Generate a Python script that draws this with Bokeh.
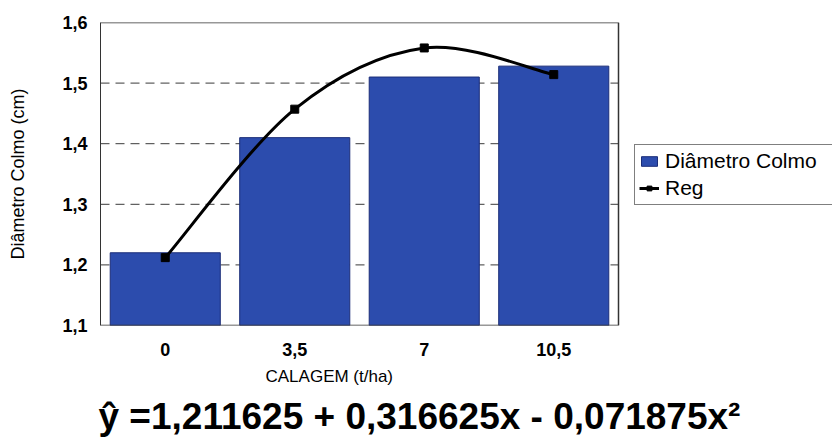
from bokeh.plotting import figure
from bokeh.models import Range1d, FixedTicker, Legend, LegendItem, Title
from bokeh.embed import file_html
from bokeh.resources import INLINE

# ---- data ----
categories = ["0", "3,5", "7", "10,5"]
diametro = [1.22, 1.41, 1.51, 1.528]
reg = [1.212, 1.457, 1.558, 1.514]
y_ticks = [1.1, 1.2, 1.3, 1.4, 1.5, 1.6]
y_tick_labels = ["1,1", "1,2", "1,3", "1,4", "1,5", "1,6"]
grid_ticks = [1.2, 1.3, 1.4, 1.5]
x_title = "CALAGEM (t/ha)"
y_title = "Diâmetro Colmo (cm)"
equation = "ŷ =1,211625 + 0,316625x - 0,071875x²"

positions = [i + 0.5 for i in range(len(categories))]
ncat = len(categories)

FONT = "Liberation Sans"

# layout: plot area 518 px wide starting at x=100, legend area to its right
AREA_W, FRAME_W = 518, 732
x_end = ncat * FRAME_W / AREA_W

p = figure(width=832, height=441, x_range=Range1d(0, x_end), y_range=Range1d(1.1, 1.6),
           output_backend="svg", toolbar_location=None, min_border=0,
           min_border_left=100, min_border_right=0, min_border_top=22, min_border_bottom=116)

p.background_fill_color = "white"
p.border_fill_color = "white"
p.outline_line_color = None
p.grid.visible = False

# dashed gridlines limited to the plot area
p.segment(x0=[0] * len(grid_ticks), x1=[ncat] * len(grid_ticks), y0=grid_ticks, y1=grid_ticks,
          line_color="#3a3a3a", line_dash="9 6", line_width=1, level="underlay")

# bars
bars = p.vbar(x=positions, top=diametro, bottom=1.1, width=0.85,
              fill_color="#2C4CAD", line_color="#1B2D78", line_width=1)

# plot area border (top, right, bottom)
p.line(x=[0, ncat, ncat, 0], y=[1.6, 1.6, 1.1, 1.1], line_color="#333333", line_width=1.5)

# smoothed regression line (cubic bezier through the points)
xs = list(positions)
ys = list(reg)
n = len(xs)
x0, y0, x1, y1, cx0, cy0, cx1, cy1 = [], [], [], [], [], [], [], []
for i in range(n - 1):
    xm = xs[i - 1] if i > 0 else xs[i]
    ym = ys[i - 1] if i > 0 else ys[i]
    xp = xs[i + 2] if i + 2 < n else xs[i + 1]
    yp = ys[i + 2] if i + 2 < n else ys[i + 1]
    x0.append(xs[i]); y0.append(ys[i]); x1.append(xs[i + 1]); y1.append(ys[i + 1])
    cx0.append(xs[i] + (xs[i + 1] - xm) / 6.0)
    cy0.append(ys[i] + (ys[i + 1] - ym) / 6.0)
    cx1.append(xs[i + 1] - (xp - xs[i]) / 6.0)
    cy1.append(ys[i + 1] - (yp - ys[i]) / 6.0)
p.bezier(x0=x0, y0=y0, x1=x1, y1=y1, cx0=cx0, cy0=cy0, cx1=cx1, cy1=cy1,
         line_color="black", line_width=3)
markers = p.scatter(positions, reg, marker="square", size=8, color="black")
# single-point line: draws nothing on the chart, gives the legend its line sample
proxy = p.line(x=positions[:1], y=reg[:1], line_color="black", line_width=3)

# axes
p.yaxis.ticker = FixedTicker(ticks=y_ticks)
p.yaxis.major_label_overrides = dict(zip(y_ticks, y_tick_labels))
p.xaxis.ticker = FixedTicker(ticks=positions)
p.xaxis.major_label_overrides = dict(zip(positions, categories))
for ax in (p.xaxis, p.yaxis):
    ax.major_tick_out = 0
    ax.major_tick_in = 0
    ax.minor_tick_out = 0
    ax.minor_tick_in = 0
    ax.major_label_text_font = FONT
    ax.major_label_text_font_size = "18px"
    ax.major_label_text_font_style = "bold"
    ax.major_label_text_color = "black"
    ax.axis_label_text_font = FONT
    ax.axis_label_text_font_style = "normal"
    ax.axis_label_text_color = "black"
p.yaxis.axis_line_color = "#333333"
p.xaxis.axis_line_color = None
p.yaxis.major_label_standoff = 13
p.xaxis.major_label_standoff = 17
p.yaxis.axis_label = y_title
p.yaxis.axis_label_text_font_size = "18px"
p.yaxis.axis_label_standoff = 31

# x axis title and regression equation, below the axis
p.add_layout(Title(text=x_title, align="left", offset=165, standoff=0,
                   padding=dict(left=0, right=0, top=6, bottom=0),
                   text_font=FONT, text_font_size="17px", text_font_style="normal",
                   text_color="black"), "below")
p.add_layout(Title(text=equation, align="left", offset=-2, standoff=0,
                   padding=dict(left=0, right=0, top=8, bottom=0),
                   text_font=FONT, text_font_size="37px", text_font_style="bold",
                   text_color="black"), "below")

# legend
legend = Legend(items=[LegendItem(label="Diâmetro Colmo", renderers=[bars]),
                       LegendItem(label="Reg", renderers=[proxy, markers])],
                location=(534, 120), border_line_color="black", border_line_width=1,
                background_fill_color="white", background_fill_alpha=1.0,
                label_text_font=FONT, label_text_font_size="21px", label_text_color="black",
                glyph_width=20, glyph_height=12, label_standoff=6, padding=4, spacing=3,
                label_width=200, margin=0)
p.add_layout(legend)

open("out.html", "w").write(file_html(p, INLINE))
